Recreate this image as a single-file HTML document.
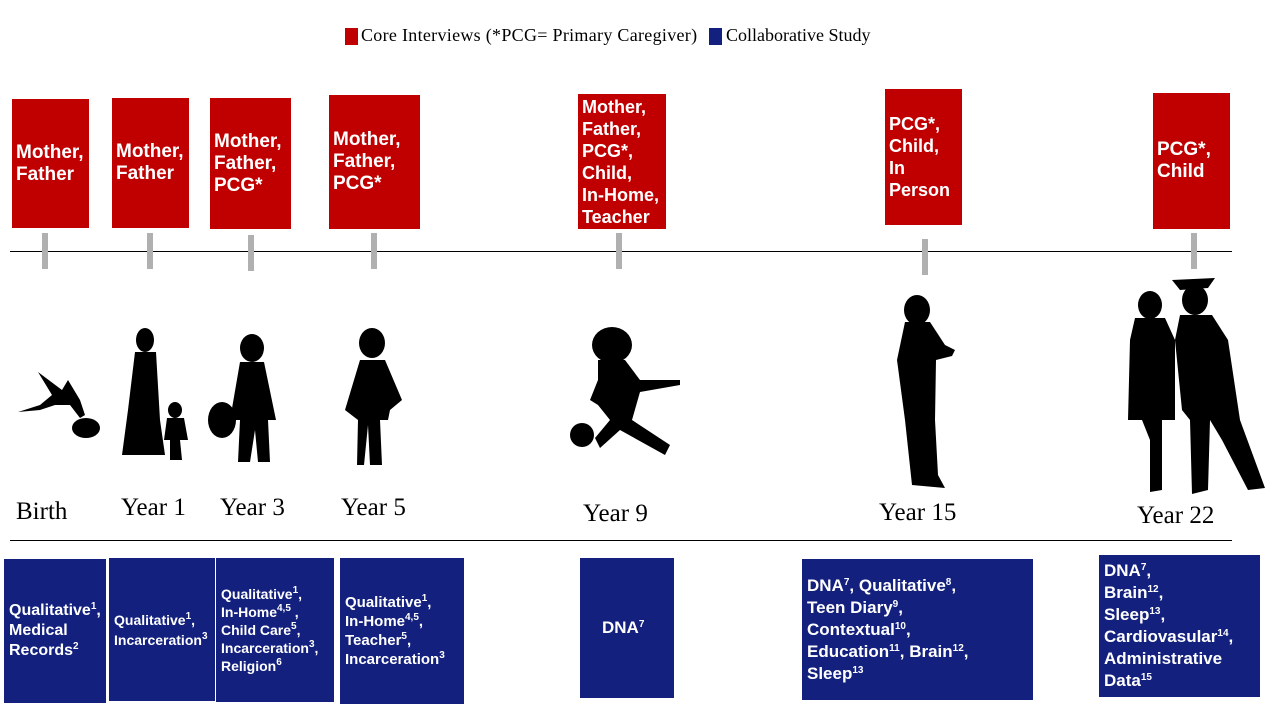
<!DOCTYPE html>
<html><head><meta charset="utf-8"><style>
body{margin:0;width:1280px;height:720px;background:#fff;position:relative;overflow:hidden;font-family:"Liberation Sans",Arial,sans-serif}
.r,.b{position:absolute;color:#fff;font-weight:bold;box-sizing:border-box;display:flex;align-items:center}
.r{background:#c00000;font-size:19px;line-height:22px;padding-left:4px}
.b{background:#13207e;font-size:16px;line-height:20px;padding-left:5px}
.b sup{font-size:10px;vertical-align:6px;line-height:0}
.t{position:absolute;width:6px;background:#b0b0b0}
.l{position:absolute;font-family:"Liberation Serif",serif;font-size:25px;color:#000}
.ln{position:absolute;height:1px;background:#000}
</style></head><body>
<div style="position:absolute;left:345px;top:28px;width:13px;height:17px;background:#c00000"></div>
<div style="position:absolute;left:361px;top:25px;font-family:'Liberation Serif',serif;font-size:18px;letter-spacing:0.3px">Core Interviews (*PCG= Primary Caregiver)</div>
<div style="position:absolute;left:709px;top:28px;width:13px;height:17px;background:#13207e"></div>
<div style="position:absolute;left:726px;top:25px;font-family:'Liberation Serif',serif;font-size:18px">Collaborative Study</div>

<div class="r" style="left:12px;top:99px;width:77px;height:129px"><div>Mother,<br>Father</div></div>
<div class="r" style="left:112px;top:98px;width:77px;height:130px"><div>Mother,<br>Father</div></div>
<div class="r" style="left:210px;top:98px;width:81px;height:131px"><div>Mother,<br>Father,<br>PCG*</div></div>
<div class="r" style="left:329px;top:95px;width:91px;height:134px"><div>Mother,<br>Father,<br>PCG*</div></div>
<div class="r" style="left:578px;top:94px;width:88px;height:135px;font-size:18px"><div>Mother,<br>Father,<br>PCG*,<br>Child,<br>In-Home,<br>Teacher</div></div>
<div class="r" style="left:885px;top:89px;width:77px;height:136px;font-size:18px"><div>PCG*,<br>Child,<br>In<br>Person</div></div>
<div class="r" style="left:1153px;top:93px;width:77px;height:136px"><div>PCG*,<br>Child</div></div>

<div class="ln" style="left:10px;top:251px;width:1222px"></div>
<div class="ln" style="left:10px;top:540px;width:1222px"></div>
<div class="t" style="left:42px;top:233px;height:36px"></div>
<div class="t" style="left:147px;top:233px;height:36px"></div>
<div class="t" style="left:248px;top:235px;height:36px"></div>
<div class="t" style="left:371px;top:233px;height:36px"></div>
<div class="t" style="left:616px;top:233px;height:36px"></div>
<div class="t" style="left:922px;top:239px;height:36px"></div>
<div class="t" style="left:1191px;top:233px;height:36px"></div>

<svg style="position:absolute;left:0;top:0" width="1280" height="720">
<g fill="#000">
<path d="M18 412 L40 405 L52 395 L38 372 L62 390 L68 380 L80 400 L85 415 L80 418 L70 405 L55 405 L40 410 Z"/>
<ellipse cx="86" cy="428" rx="14" ry="10"/>
<ellipse cx="145" cy="340" rx="9" ry="12"/>
<path d="M135 352 L156 352 L160 420 L165 455 L122 455 L128 410 Z"/>
<ellipse cx="175" cy="410" rx="7" ry="8"/>
<path d="M167 418 L184 418 L188 440 L180 440 L182 460 L170 460 L170 440 L164 440 Z"/>
<ellipse cx="252" cy="348" rx="12" ry="14"/>
<path d="M240 362 L264 362 L276 420 L268 420 L270 462 L258 462 L255 430 L250 462 L238 462 L240 420 L230 420 Z"/>
<ellipse cx="222" cy="420" rx="14" ry="18"/>
<ellipse cx="372" cy="343" rx="13" ry="15"/>
<path d="M360 360 L385 360 L402 400 L390 410 L388 420 L380 420 L382 465 L370 465 L368 425 L364 465 L357 465 L358 420 L345 410 Z"/>
<ellipse cx="612" cy="345" rx="20" ry="18"/>
<path d="M598 360 L625 360 L640 380 L680 380 L680 385 L640 392 L632 420 L670 445 L665 455 L620 430 L600 448 L595 438 L610 420 L598 405 L590 400 L598 380 Z"/>
<circle cx="582" cy="435" r="12"/>
<ellipse cx="917" cy="310" rx="13" ry="15"/>
<path d="M905 322 L930 322 L945 345 L955 350 L952 356 L936 360 L935 420 L938 475 L945 488 L912 485 L905 420 L897 360 Z"/>
<ellipse cx="1150" cy="305" rx="12" ry="14"/>
<path d="M1135 318 L1165 318 L1175 340 L1175 420 L1162 420 L1162 490 L1150 492 L1150 440 L1142 420 L1128 420 L1130 340 Z"/>
<path d="M1172 280 L1215 278 L1208 288 L1180 290 Z"/>
<ellipse cx="1195" cy="300" rx="13" ry="15"/>
<path d="M1180 315 L1212 315 L1228 340 L1240 420 L1265 488 L1248 490 L1222 440 L1210 420 L1208 490 L1192 494 L1190 420 L1182 410 L1175 340 Z"/>
</g>
</svg>

<div class="l" style="left:16px;top:498px">Birth</div>
<div class="l" style="left:121px;top:494px">Year 1</div>
<div class="l" style="left:220px;top:494px">Year 3</div>
<div class="l" style="left:341px;top:494px">Year 5</div>
<div class="l" style="left:583px;top:500px">Year 9</div>
<div class="l" style="left:879px;top:499px">Year 15</div>
<div class="l" style="left:1137px;top:502px">Year 22</div>

<div class="b" style="left:4px;top:559px;width:102px;height:144px"><div>Qualitative<sup>1</sup>,<br>Medical<br>Records<sup>2</sup></div></div>
<div class="b" style="left:109px;top:558px;width:106px;height:143px;font-size:14px"><div>Qualitative<sup>1</sup>,<br>Incarceration<sup>3</sup></div></div>
<div class="b" style="left:216px;top:558px;width:118px;height:144px;font-size:14px;line-height:18px"><div>Qualitative<sup>1</sup>,<br>In-Home<sup>4,5</sup> ,<br>Child Care<sup>5</sup>,<br>Incarceration<sup>3</sup>,<br>Religion<sup>6</sup></div></div>
<div class="b" style="left:340px;top:558px;width:124px;height:146px;font-size:15px;line-height:19px"><div>Qualitative<sup>1</sup>,<br>In-Home<sup>4,5</sup>,<br>Teacher<sup>5</sup>,<br>Incarceration<sup>3</sup></div></div>
<div class="b" style="left:580px;top:558px;width:94px;height:140px;padding-left:22px;font-size:17px"><div>DNA<sup>7</sup></div></div>
<div class="b" style="left:802px;top:559px;width:231px;height:141px;font-size:17px;line-height:22px"><div>DNA<sup>7</sup>, Qualitative<sup>8</sup>,<br>Teen Diary<sup>9</sup>,<br>Contextual<sup>10</sup>,<br>Education<sup>11</sup>, Brain<sup>12</sup>,<br>Sleep<sup>13</sup></div></div>
<div class="b" style="left:1099px;top:555px;width:161px;height:142px;font-size:17px;line-height:22px"><div>DNA<sup>7</sup>,<br>Brain<sup>12</sup>,<br>Sleep<sup>13</sup>,<br>Cardiovasular<sup>14</sup>,<br>Administrative<br>Data<sup>15</sup></div></div>
</body></html>
